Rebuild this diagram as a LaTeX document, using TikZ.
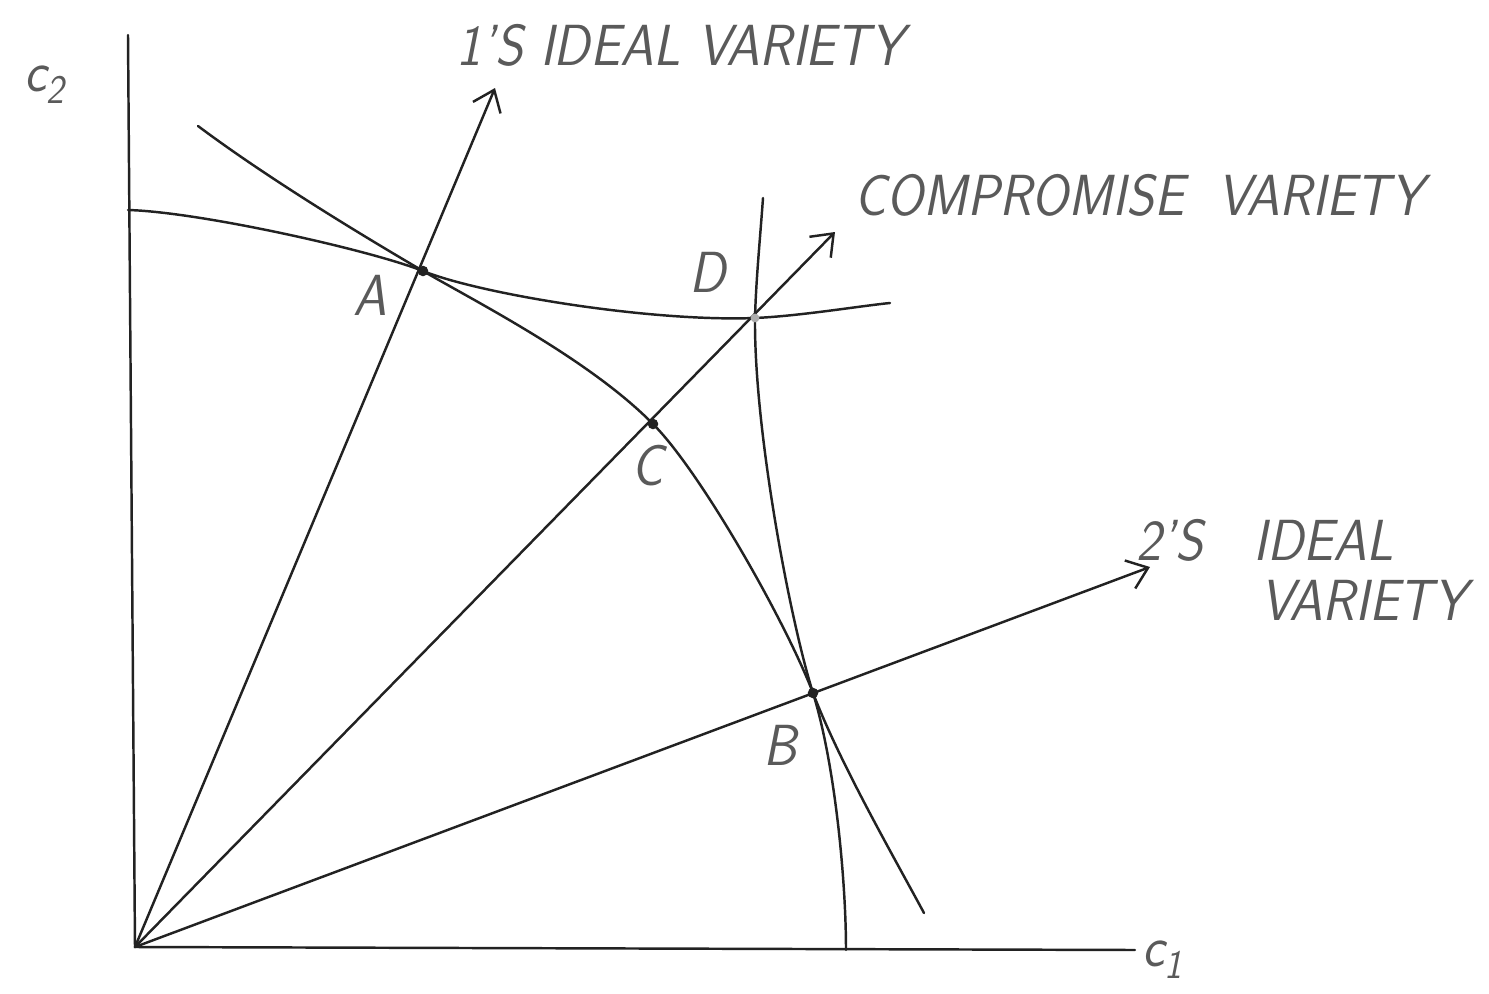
\documentclass[tikz,border=0pt]{standalone}
\usepackage{fontspec}
\usetikzlibrary{arrows.meta}
\definecolor{pencil}  {HTML}{222222}
\definecolor{pencilgr}{HTML}{5A5A5A}
\newcommand{\handtext}[1]{\scalebox{0.92}[1]{#1}}

\begin{document}
\begin{tikzpicture}[x=0.02cm,y=-0.02cm,
    curve/.style={pencil,line width=1.4pt,line cap=round},
    ray/.style={curve,-{Straight Barb[length=11pt,width=17pt,line width=1.4pt]}},
    lbl/.style={pencilgr,inner sep=0pt,font=\fontsize{33}{36}\selectfont\sffamily\slshape},
    dot/.style={circle,fill=pencil,inner sep=0pt,minimum size=6pt}]
  \useasboundingbox (0,0) rectangle (1489,994);

  % axes
  \coordinate (O) at (135,947);
  \coordinate (ytop) at (128,35);
  \coordinate (xend) at (1135,950);
  \draw[curve] (ytop) -- (O) -- (xend);
  \node[lbl] (c2lab) at (45,85) {\handtext{c\textsubscript{2}}};
  \node[lbl] (c1lab) at (1163,960) {\handtext{c\textsubscript{1}}};

  % rays from the origin
  \coordinate (r1) at (495,88);
  \coordinate (rc) at (835,232);
  \coordinate (r2) at (1150,567);
  \foreach \r in {r1,rc,r2} {
    \draw[ray] (O) -- (\r);
  }

  % the four points
  \coordinate (pA) at (423,271);
  \coordinate (pC) at (653,424);
  \coordinate (pD) at (755,318);
  \coordinate (pB) at (813,693);

  % curve through A and D
  \draw[curve] (128,210) .. controls (200,212) and (370,250) .. (pA)
    .. controls (480,294) and (650,322) .. (pD)
    .. controls (800,316) and (860,306) .. (890,303);
  % curve through A, C and B
  \draw[curve] (198,126) .. controls (270,180) and (370,240) .. (pA)
    .. controls (480,304) and (590,360) .. (pC)
    .. controls (700,471) and (785,620) .. (pB)
    .. controls (840,763) and (890,850) .. (924,913);
  % curve through D and B
  \draw[curve] (763,198) .. controls (760,240) and (756,280) .. (pD)
    .. controls (754,430) and (790,620) .. (pB)
    .. controls (835,764) and (846,880) .. (846,950);

  \node[dot] (dotA) at (pA) {};
  \node[dot] (dotC) at (pC) {};
  \node[dot] (dotB) at (pB) {};
  \node[dot,fill=pencilgr!50,minimum size=5pt] (dotD) at (pD) {};

  % point labels
  \node[lbl] (labA) at (370,295) {\handtext{A}};
  \node[lbl] (labD) at (708,272) {\handtext{D}};
  \node[lbl] (labC) at (648,466) {\handtext{C}};
  \node[lbl] (labB) at (780,745) {\handtext{B}};

  % ray labels
  \node[lbl] (lab1) at (680,45) {\handtext{1’S IDEAL VARIETY}};
  \node[lbl] (labc) at (1139,195) {\handtext{COMPROMISE\ \ VARIETY}};
  \node[lbl] (lab2a) at (1265,540) {\handtext{2’S\ \ \ IDEAL}};
  \node[lbl,anchor=west] (lab2b) at (1260,600) {\handtext{VARIETY}};
\end{tikzpicture}
\end{document}
